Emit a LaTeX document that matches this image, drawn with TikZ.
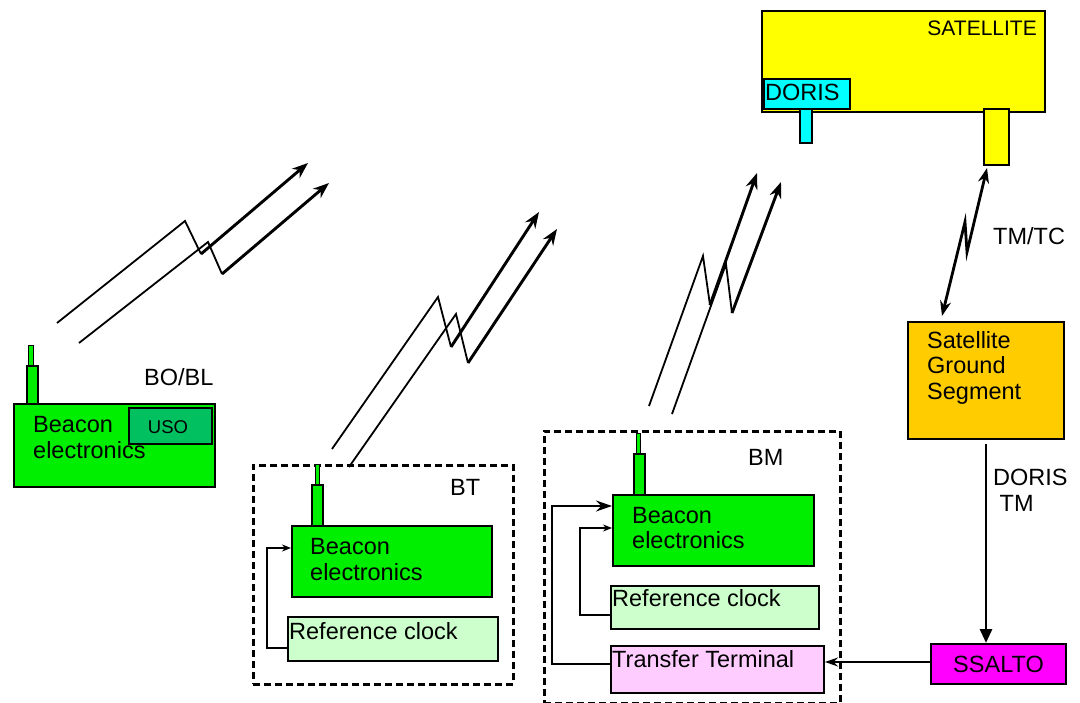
\documentclass[tikz,border=0pt]{standalone}
\usepackage{fontspec}
\setmainfont{Liberation Sans}
\usetikzlibrary{arrows.meta,calc}

\definecolor{satyellow}{RGB}{255,255,0}
\definecolor{doriscyan}{RGB}{0,255,255}
\definecolor{beacongreen}{RGB}{0,238,0}
\definecolor{usogreen}{RGB}{0,192,96}
\definecolor{clockgreen}{RGB}{204,255,204}
\definecolor{ttpink}{RGB}{255,204,255}
\definecolor{gsorange}{RGB}{255,204,0}
\definecolor{ssmagenta}{RGB}{255,0,255}

\begin{document}
\begin{tikzpicture}[x=1pt,y=-1pt,
  box/.style={draw=black,line width=2pt,inner sep=0pt,anchor=north west},
  antthin/.style={box,line width=1.2pt,fill=beacongreen},
  station/.style={draw=black,line width=2.6pt,dash pattern=on 7pt off 4pt,inner sep=0pt,anchor=north west},
  txt/.style={inner sep=0pt,anchor=west,align=left,font=\fontsize{23.5}{25.5}\selectfont},
  rise/.style={line width=1.8pt},
  riseend/.style={line width=2.9pt,-{Stealth[length=16pt,width=12pt]}},
  feed/.style={line width=1.6pt,-{Stealth[length=9pt,width=7pt]}},
  bigfeed/.style={line width=1.6pt,-{Stealth[length=16pt,width=11pt]}},
  link/.style={line width=2.8pt},
]
\useasboundingbox (0,0) rectangle (1080,703);

% ---------------- satellite ----------------
\node[box,fill=satyellow,minimum width=283pt,minimum height=101pt] (sat) at (761,10) {};
\node[box,fill=doriscyan,minimum width=12pt,minimum height=34pt] (dstem) at (799,108) {};
\node[box,fill=doriscyan,minimum width=86pt,minimum height=30pt] (doris) at (763,78) {};
\node[box,fill=satyellow,minimum width=25pt,minimum height=56pt] (sant) at (983,108) {};
\node[inner sep=0pt,anchor=east,font=\fontsize{21}{24}\selectfont] (sattxt) at (1037,28) {SATELLITE};
\node[txt] (doristxt) at (765,92) {DORIS};

% ---------------- ground segment and SSALTO ----------------
\node[box,fill=gsorange,minimum width=156pt,minimum height=117pt] (sgs) at (907,321) {};
\node[txt] (sgstxt) at (927,367.5) {Satellite\\Ground\\Segment};
\node[box,fill=ssmagenta,minimum width=135pt,minimum height=40pt] (ssalto) at (930,643) {};
\node[inner sep=0pt,font=\fontsize{23.5}{25.5}\selectfont] (ssaltotxt) at (ssalto.center) {SSALTO};

% TM/TC radio link
\coordinate (tmbot) at (942,316);
\coordinate (tmz1) at (965,222);
\coordinate (tmz2) at (967,252);
\coordinate (tmtop) at (987,168);
\draw[link,{Stealth[length=15pt,width=11pt]}-{Stealth[length=15pt,width=11pt]}]
  (tmbot) -- (tmz1) -- (tmz2) -- (tmtop);
\node[txt] (tmtc) at (993,236) {TM/TC};

% DORIS telemetry
\coordinate (tmstart) at ($(sgs.south)+(0,4)$);
\draw[link,-{Stealth[length=14pt,width=12pt,inset=0pt]}] (tmstart) -- (tmstart |- ssalto.north);
\node[txt] (doristm) at (993,490.5) {DORIS\\\hspace*{6.5pt}TM};

% ---------------- BO/BL beacon ----------------
\node[antthin,minimum width=5pt,minimum height=20pt] (boant1) at (28,345) {};
\node[box,fill=beacongreen,minimum width=11pt,minimum height=40pt] (boant2) at (26,365) {};
\node[box,fill=beacongreen,minimum width=201pt,minimum height=83pt] (bobe) at (13,403) {};
\node[box,fill=usogreen,minimum width=83pt,minimum height=36pt] (uso) at (128,407) {};
\node[inner sep=0pt,font=\fontsize{18.5}{21}\selectfont] (usotxt) at (168,427) {USO};
\node[txt] (bobetxt) at (33,437.5) {Beacon\\electronics};
\node[txt] (bobl) at (144,377) {BO/BL};

% ---------------- BT station ----------------
\node[station,minimum width=260pt,minimum height=219pt] (bt) at (252,464) {};
\node[txt] (bttxt) at (450,487) {BT};
\node[antthin,minimum width=4pt,minimum height=20pt] (btant1) at (315,464) {};
\node[box,fill=beacongreen,minimum width=11pt,minimum height=41pt] (btant2) at (311,484) {};
\node[box,fill=beacongreen,minimum width=200pt,minimum height=71pt] (btbe) at (291,525) {};
\node[txt] (btbetxt) at (310,559.5) {Beacon\\electronics};
\node[box,fill=clockgreen,minimum width=210pt,minimum height=44pt] (btrc) at (287,616) {};
\node[txt] (btrctxt) at (289,631) {Reference clock};
\draw[feed] ($(btrc.south west)+(0,-14)$) -- ++(-20,0) |- ($(btbe.north west)+(0,23)$);

% ---------------- BM station ----------------
\node[station,minimum width=296pt,minimum height=272pt] (bm) at (543,430) {};
\node[txt] (bmtxt) at (748,457) {BM};
\node[antthin,minimum width=4pt,minimum height=20pt] (bmant1) at (636,433) {};
\node[box,fill=beacongreen,minimum width=11pt,minimum height=41pt] (bmant2) at (633,453) {};
\node[box,fill=beacongreen,minimum width=201pt,minimum height=71pt] (bmbe) at (612,494) {};
\node[txt] (bmbetxt) at (632,528) {Beacon\\electronics};
\node[box,fill=clockgreen,minimum width=208pt,minimum height=43pt] (bmrc) at (610,585) {};
\node[txt] (bmrctxt) at (612,598) {Reference clock};
\node[box,fill=ttpink,minimum width=213pt,minimum height=47pt] (bmtt) at (610,645) {};
\node[txt] (bmtttxt) at (612,659) {Transfer Terminal};
\draw[feed] ($(bmrc.south west)+(0,-15)$) -- ++(-30,0) |- ($(bmbe.north west)+(0,34)$);
\draw[bigfeed] ($(bmtt.north west)+(0,19)$) -- ++(-58,0) |- ($(bmbe.north west)+(0,12)$);

% SSALTO to transfer terminal
\coordinate (ssout) at ($(ssalto.west)+(0,-2)$);
\draw[line width=1.6pt,-{Stealth[length=13pt,width=9pt]}] (ssout) -- (ssout -| bmtt.east);

% ---------------- up-going beacon signals ----------------
% BO/BL
\coordinate (boA1) at (57,323);  \coordinate (boA2) at (185,221);
\coordinate (boA3) at (201,254); \coordinate (boA4) at (308,163);
\coordinate (boB1) at (79,343);  \coordinate (boB2) at (208,242);
\coordinate (boB3) at (222,274); \coordinate (boB4) at (329,183);
\draw[rise] (boA1) -- (boA2) -- (boA3);
\draw[riseend] (boA3) -- (boA4);
\draw[rise] (boB1) -- (boB2) -- (boB3);
\draw[riseend] (boB3) -- (boB4);
% BT
\coordinate (btA1) at (332,449); \coordinate (btA2) at (438,297);
\coordinate (btA3) at (451,347); \coordinate (btA4) at (539,212);
\coordinate (btB1) at (349,467); \coordinate (btB2) at (456,314);
\coordinate (btB3) at (468,363); \coordinate (btB4) at (557,229);
\draw[rise] (btA1) -- (btA2) -- (btA3);
\draw[riseend] (btA3) -- (btA4);
\draw[rise] (btB1) -- (btB2) -- (btB3);
\draw[riseend] (btB3) -- (btB4);
% BM
\coordinate (bmA1) at (649,406); \coordinate (bmA2) at (703,256);
\coordinate (bmA3) at (710,305); \coordinate (bmA4) at (757,173);
\coordinate (bmB1) at (672,414); \coordinate (bmB2) at (726,264);
\coordinate (bmB3) at (732,313); \coordinate (bmB4) at (781,182);
\draw[rise] (bmA1) -- (bmA2) -- (bmA3);
\draw[riseend] (bmA3) -- (bmA4);
\draw[rise] (bmB1) -- (bmB2) -- (bmB3);
\draw[riseend] (bmB3) -- (bmB4);
\end{tikzpicture}
\end{document}
